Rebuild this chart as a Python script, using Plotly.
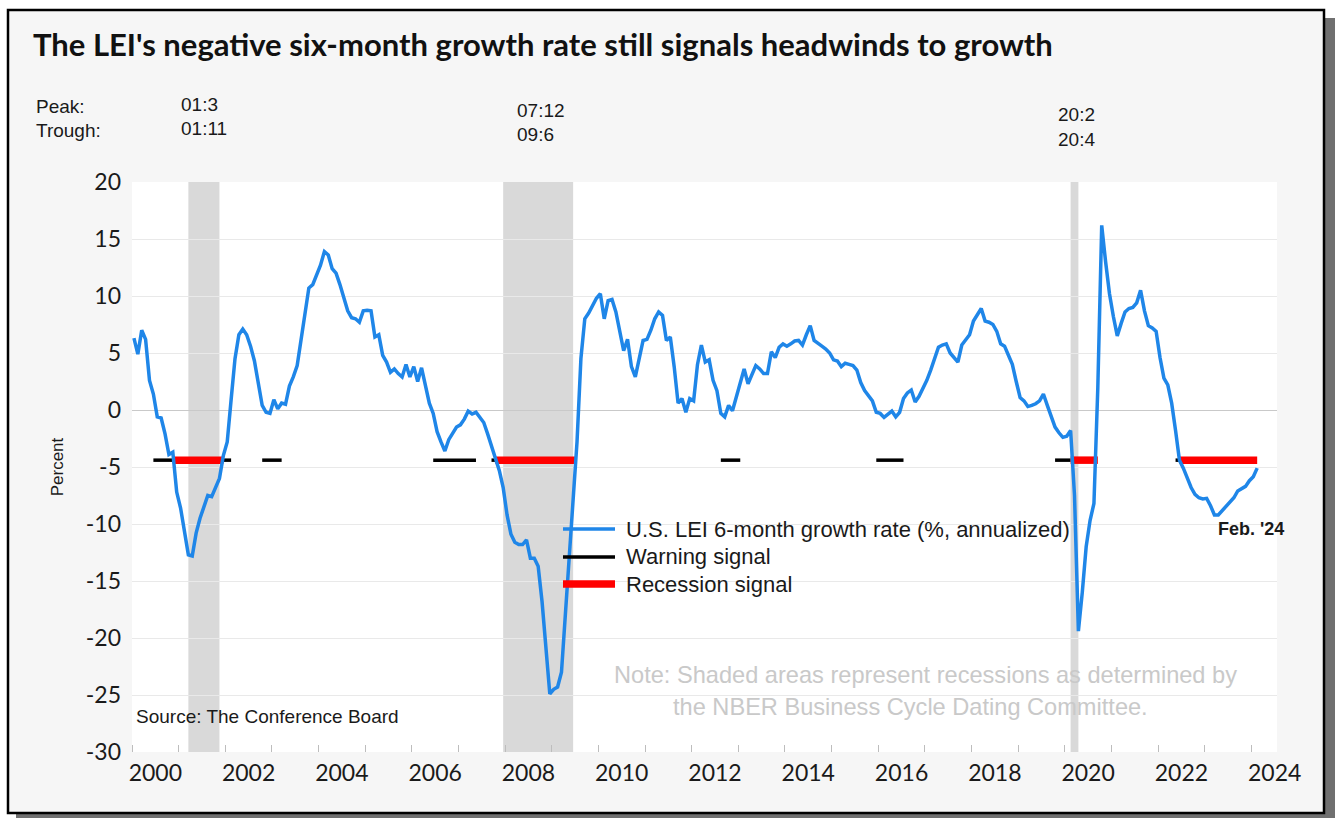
import plotly.graph_objects as go

# ---------------- data ----------------
start_year = 2000
lei_2000 = [6.3, 4.9, 7.0, 6.2, 2.6, 1.4, -0.6, -0.7, -2.1, -3.9, -3.7, -7.2]
lei_2001 = [-8.6, -10.8, -12.7, -12.8, -10.8, -9.5, -8.6, -7.5, -7.6, -6.7, -6.0, -4.0]
lei_2002 = [-2.8, 0.9, 4.5, 6.6, 7.1, 6.6, 5.6, 4.3, 2.2, 0.4, -0.2, -0.3]
lei_2003 = [0.9, 0.1, 0.6, 0.5, 2.1, 2.9, 3.9, 6.3, 8.8, 10.7, 11.0, 11.8]
lei_2004 = [12.7, 13.9, 13.6, 12.4, 12.0, 11.0, 9.9, 8.7, 8.1, 8.0, 7.7, 8.7]
lei_2005 = [8.75, 8.7, 6.4, 6.6, 4.8, 4.2, 3.3, 3.6, 3.2, 2.9, 4.0, 2.9]
lei_2006 = [3.8, 2.5, 3.7, 2.1, 0.6, -0.3, -1.9, -2.8, -3.6, -2.6, -2.0, -1.5]
lei_2007 = [-1.3, -0.8, -0.1, -0.35, -0.2, -0.7, -1.1, -2.1, -3.2, -4.2, -5.3, -6.8]
lei_2008 = [-9.2, -10.9, -11.6, -11.8, -11.8, -11.4, -13.0, -13.0, -13.7, -16.8, -21.1, -24.9]
lei_2009 = [-24.5, -24.3, -23.0, -18.0, -12.6, -7.5, -2.8, 4.5, 8.0, 8.5, 9.1, 9.8]
lei_2010 = [10.2, 8.0, 9.6, 9.7, 8.6, 7.0, 5.2, 6.2, 3.8, 2.9, 4.4, 6.1]
lei_2011 = [6.2, 7.0, 8.0, 8.6, 8.3, 6.1, 6.4, 3.8, 0.6, 1.0, -0.2, 1.0]
lei_2012 = [0.8, 4.0, 5.7, 4.2, 4.4, 2.6, 1.7, -0.3, -0.6, 0.4, -0.06, 1.1]
lei_2013 = [2.4, 3.6, 2.3, 3.1, 3.9, 3.6, 3.2, 3.2, 5.1, 4.6, 5.5, 5.8]
lei_2014 = [5.6, 5.8, 6.05, 6.1, 5.7, 6.6, 7.4, 6.1, 5.8, 5.6, 5.35, 5.0]
lei_2015 = [4.4, 4.3, 3.8, 4.1, 4.0, 3.9, 3.5, 2.4, 1.7, 1.3, 0.8, -0.2]
lei_2016 = [-0.3, -0.65, -0.35, -0.1, -0.6, -0.2, 1.0, 1.5, 1.75, 0.7, 1.2, 1.9]
lei_2017 = [2.6, 3.5, 4.5, 5.5, 5.7, 5.8, 5.0, 4.6, 4.2, 5.7, 6.2, 6.6]
lei_2018 = [7.8, 8.4, 8.9, 7.8, 7.7, 7.5, 6.9, 5.8, 5.6, 4.8, 4.0, 2.5]
lei_2019 = [1.1, 0.8, 0.3, 0.4, 0.55, 0.8, 1.4, 0.4, -0.6, -1.5, -2.0, -2.4]
lei_2020 = [-2.3, -1.8, -7.5, -19.4, -16.0, -12.0, -9.7, -8.2, 2.0, 16.2, 13.0, 10.2]
lei_2021 = [8.2, 6.5, 7.6, 8.6, 8.9, 9.0, 9.4, 10.5, 8.7, 7.4, 7.2, 6.9]
lei_2022 = [4.6, 2.8, 2.2, 0.6, -1.8, -4.4, -5.1, -6.0, -6.8, -7.4, -7.7, -7.8]
lei_2023 = [-7.75, -8.4, -9.2, -9.2, -8.8, -8.5, -8.1, -7.7, -7.1, -6.9, -6.7, -6.2]
lei_2024 = [-5.85, -5.1]

warning_runs = [("2000-06", "2000-11"), ("2001-12", "2002-02"), ("2002-10", "2003-03"),
                ("2006-06", "2007-05"), ("2007-09", "2007-10"), ("2012-08", "2013-01"),
                ("2015-12", "2016-07"), ("2019-10", "2020-02"), ("2022-05", "2022-06")]
recession_signal_runs = [("2000-11", "2001-12"), ("2007-10", "2009-07"),
                         ("2020-02", "2020-09"), ("2022-06", "2024-02")]
signal_level = -4.4

nber_peaks = ["2001-03", "2007-12", "2020-02"]
nber_troughs = ["2001-11", "2009-06", "2020-04"]
peak_labels = ["01:3", "07:12", "20:2"]
trough_labels = ["01:11", "09:6", "20:4"]

tick_years = list(range(2000, 2025, 2))
y_ticks = [20, 15, 10, 5, 0, -5, -10, -15, -20, -25, -30]

# ---------------- helpers ----------------
lei = (lei_2000 + lei_2001 + lei_2002 + lei_2003 + lei_2004 + lei_2005 + lei_2006 +
       lei_2007 + lei_2008 + lei_2009 + lei_2010 + lei_2011 + lei_2012 + lei_2013 +
       lei_2014 + lei_2015 + lei_2016 + lei_2017 + lei_2018 + lei_2019 + lei_2020 +
       lei_2021 + lei_2022 + lei_2023 + lei_2024)


def month_x(label):
    y, m = label.split("-")
    i = (int(y) - start_year) * 12 + int(m) - 1
    return start_year + (i + 0.5) / 12


xs = [start_year + (i + 0.5) / 12 for i in range(len(lei))]


def run_xy(runs):
    rx, ry = [], []
    for a, b in runs:
        ya, ma = map(int, a.split("-"))
        yb, mb = map(int, b.split("-"))
        ia = (ya - start_year) * 12 + ma - 1
        ib = (yb - start_year) * 12 + mb - 1
        for i in range(ia, ib + 1):
            rx.append(start_year + (i + 0.5) / 12)
            ry.append(signal_level)
        rx.append(None)
        ry.append(None)
    return rx, ry


W, H = 1335, 818
L, R, T, B = 132, 58, 182, 66


def px(x):
    return (x - L) / (W - L - R)


def py(y):
    return (H - B - y) / (H - T - B)


BLUE = "#1f86e8"

fig = go.Figure()
wx, wy = run_xy(warning_runs)
rx, ry = run_xy(recession_signal_runs)
fig.add_trace(go.Scatter(x=wx, y=wy, mode="lines", name="Warning signal",
                         line=dict(color="black", width=3.5), connectgaps=False,
                         hoverinfo="skip", showlegend=False))
fig.add_trace(go.Scatter(x=rx, y=ry, mode="lines", name="Recession signal",
                         line=dict(color="#ff0000", width=7.5), connectgaps=False,
                         hoverinfo="skip", showlegend=False))
fig.add_trace(go.Scatter(x=xs, y=lei, mode="lines",
                         name="U.S. LEI 6-month growth rate (%, annualized)",
                         line=dict(color=BLUE, width=3.5), showlegend=False))

shapes = []
# frame shadow, frame, white plot area (paper, below)
shapes.append(dict(type="rect", xref="paper", yref="paper", layer="below",
                   x0=px(16), x1=px(1336), y0=py(819), y1=py(18),
                   fillcolor="#707070", line=dict(width=0)))
shapes.append(dict(type="rect", xref="paper", yref="paper", layer="below",
                   x0=px(8), x1=px(1324), y0=py(813), y1=py(10),
                   fillcolor="#f6f6f6", line=dict(color="black", width=2.5)))
shapes.append(dict(type="rect", xref="paper", yref="paper", layer="below",
                   x0=0, x1=1, y0=0, y1=1, fillcolor="white", line=dict(width=0)))
# recession shading
for p, t in zip(nber_peaks, nber_troughs):
    shapes.append(dict(type="rect", xref="x", yref="paper", layer="below",
                       x0=month_x(p), x1=month_x(t), y0=0, y1=1,
                       fillcolor="#d9d9d9", line=dict(width=0)))
# legend stubs
for yy, col, wd in [(529, BLUE, 3.5), (557, "black", 3.5), (584, "#ff0000", 7.5)]:
    shapes.append(dict(type="line", xref="paper", yref="paper", layer="above",
                       x0=px(563), x1=px(615), y0=py(yy), y1=py(yy),
                       line=dict(color=col, width=wd)))

ann = []


def txt(text, x, y, size, color="#1a1a1a", family="Liberation Sans, Arial",
        xanchor="left"):
    ann.append(dict(text=text, x=px(x), y=py(y), xref="paper", yref="paper",
                    xanchor=xanchor, yanchor="middle", showarrow=False,
                    font=dict(size=size, color=color, family=family)))


txt("<b>The LEI's negative six-month growth rate still signals headwinds to growth</b>",
    31, 44, 31, color="#111111", family="Lato")
txt("Peak:", 34, 106, 19)
txt("Trough:", 34, 131, 19)
label_x = [179, 515, 1056]
label_y = [104, 110, 114]
for lx, ly, pk, tr in zip(label_x, label_y, peak_labels, trough_labels):
    txt(pk, lx, ly, 19)
    txt(tr, lx, ly + 25, 19)

txt("U.S. LEI 6-month growth rate (%, annualized)", 624, 529, 22)
txt("Warning signal", 624, 556, 22)
txt("Recession signal", 624, 584, 22)
txt("<b>Feb. '24</b>", 1216, 529, 18)
txt("Source: The Conference Board", 134, 716, 19)
txt("Note: Shaded areas represent recessions as determined by", 612, 675, 23.6,
    color="#c9c9c9")
txt("the NBER Business Cycle Dating Committee.", 671, 707, 23.6, color="#c9c9c9")

fig.update_layout(
    width=W, height=H,
    margin=dict(l=L, r=R, t=T, b=B, pad=0),
    paper_bgcolor="white", plot_bgcolor="white",
    shapes=shapes, annotations=ann, showlegend=False,
    xaxis=dict(range=[2000.0, 2024.55], showgrid=False, zeroline=False,
               tickmode="array", tickvals=[y + 0.5 for y in tick_years],
               ticktext=[str(y) for y in tick_years], ticks="",
               ticklabelstandoff=5,
               tickfont=dict(family="Lato", size=23, color="#1a1a1a"),
               showline=False,
               minor=dict(tickmode="array", tickvals=list(range(2000, 2025)),
                          ticks="inside", ticklen=7, tickcolor="#bdbdbd",
                          tickwidth=1, showgrid=False)),
    yaxis=dict(range=[-30, 20], tickmode="array", tickvals=y_ticks,
               ticktext=[str(v) for v in y_ticks], ticks="",
               ticklabelstandoff=10,
               showgrid=True, gridcolor="#e9e9e9", gridwidth=1,
               zeroline=True, zerolinecolor="#c9c9c9", zerolinewidth=1,
               showline=False,
               tickfont=dict(family="Lato", size=23, color="#1a1a1a"),
               title=dict(text="Percent", standoff=17,
                          font=dict(family="Liberation Sans, Arial", size=17,
                                    color="#1a1a1a"))),
)

fig.write_html("out.html")
